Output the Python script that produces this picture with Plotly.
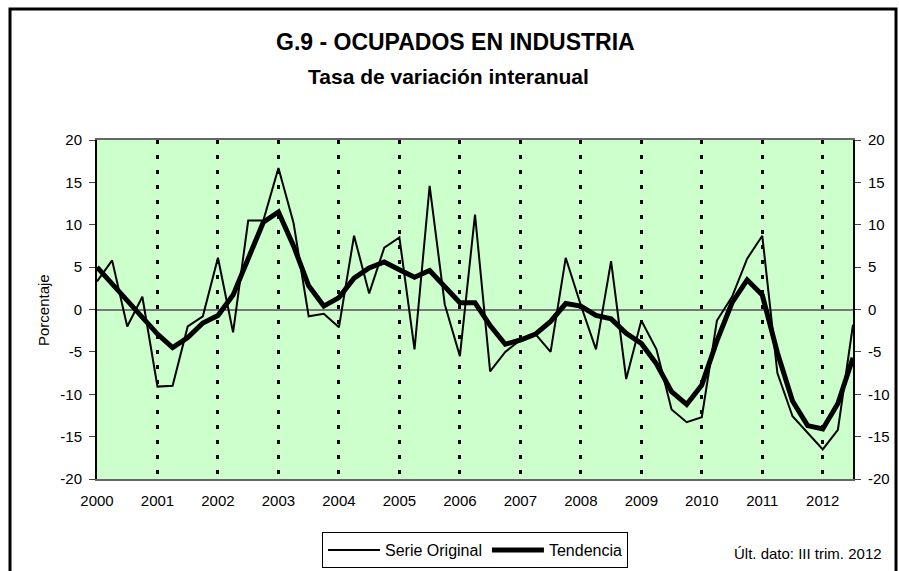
import plotly.graph_objects as go

# Quarterly data 2000 Q1 .. 2012 Q3
years = list(range(2000, 2013))
quarters_per_year = 4
n_points = 51
x_time = [2000 + i / quarters_per_year for i in range(n_points)]

serie_original = [
    3.3, 5.8, -2.0, 1.5,        # 2000
    -9.1, -9.0, -2.0, -0.8,     # 2001
    6.1, -2.7, 10.5, 10.5,      # 2002
    16.7, 10.2, -0.8, -0.5,     # 2003
    -2.1, 8.7, 1.9, 7.3,        # 2004
    8.5, -4.7, 14.6, 0.6,       # 2005
    -5.5, 11.2, -7.3, -5.0,     # 2006
    -3.6, -2.9, -5.0, 6.1,      # 2007
    0.5, -4.7, 5.7, -8.2,       # 2008
    -1.3, -4.7, -11.8, -13.3,   # 2009
    -12.7, -1.3, 1.5, 6.0,      # 2010
    8.7, -7.5, -12.6, -14.6,    # 2011
    -16.5, -14.2, -1.8,         # 2012
]

tendencia = [
    5.0, 3.0, 1.0, -0.9,
    -2.9, -4.5, -3.3, -1.6,
    -0.7, 1.7, 6.2, 10.3,
    11.5, 7.5, 2.8, 0.4,
    1.4, 3.7, 4.9, 5.6,
    4.7, 3.8, 4.6, 2.7,
    0.8, 0.8, -1.9, -4.1,
    -3.6, -2.9, -1.4, 0.7,
    0.4, -0.7, -1.1, -2.8,
    -4.0, -6.4, -9.7, -11.2,
    -8.9, -3.7, 0.8, 3.5,
    1.7, -5.1, -10.8, -13.7,
    -14.1, -11.1, -5.7,
]

y_ticks = [-20, -15, -10, -5, 0, 5, 10, 15, 20]
y_tick_labels = ["-20", "-15", "-10", "-5", "0", "5", "10", "15", "20"]
x_tick_labels = [str(y) for y in years]

FONT = "Liberation Sans, Arial, sans-serif"

# plot area geometry (pixels)
W, H = 899, 571
L, R, T, B = 97, 853, 140, 479


def px_x(px):
    return (px - L) / (R - L)


def px_y(py):
    return (B - py) / (B - T)


fig = go.Figure()

fig.add_trace(go.Scatter(
    x=x_time, y=serie_original, mode="lines", name="Serie Original",
    line=dict(color="black", width=2), yaxis="y",
))
fig.add_trace(go.Scatter(
    x=x_time, y=tendencia, mode="lines", name="Tendencia",
    line=dict(color="black", width=5), yaxis="y",
))
# invisible trace to activate right axis
fig.add_trace(go.Scatter(
    x=[x_time[0]], y=[0], mode="lines", yaxis="y2", showlegend=False,
    hoverinfo="skip", line=dict(color="rgba(0,0,0,0)"),
))

fig.update_layout(
    width=W, height=H,
    margin=dict(l=L, r=W - R, t=T, b=H - B, pad=0, autoexpand=False),
    paper_bgcolor="white",
    plot_bgcolor="#CCFFCC",
    font=dict(family=FONT, size=15, color="black"),
    showlegend=True,
    legend=dict(
        orientation="h", x=0.5, xanchor="center", y=px_y(568), yanchor="bottom",
        bgcolor="white", bordercolor="black", borderwidth=1,
        font=dict(size=16), itemwidth=52, tracegroupgap=0,
    ),
    xaxis=dict(
        range=[2000, 2012.5],
        tickmode="array", tickvals=years, ticktext=x_tick_labels,
        ticks="", showgrid=True, gridcolor="black", gridwidth=3,
        griddash="4px,11px",
        showline=True, linecolor="#666666", linewidth=2, mirror=True,
        zeroline=False, tickfont=dict(size=15), ticklabelstandoff=7,
    ),
    yaxis=dict(
        range=[-20, 20], tickmode="array", tickvals=y_ticks, ticktext=y_tick_labels,
        ticks="outside", ticklen=6, tickcolor="#444444", tickwidth=1,
        showgrid=False, zeroline=True, zerolinecolor="#777777", zerolinewidth=2,
        showline=True, linecolor="black", linewidth=2,
        tickfont=dict(size=15), ticklabelstandoff=4,
    ),
    yaxis2=dict(
        range=[-20, 20], tickmode="array", tickvals=y_ticks, ticktext=y_tick_labels,
        overlaying="y", side="right",
        ticks="outside", ticklen=6, tickcolor="#444444", tickwidth=1,
        showgrid=False, zeroline=False,
        showline=True, linecolor="black", linewidth=2,
        tickfont=dict(size=15), ticklabelstandoff=4,
    ),
    shapes=[
        dict(type="rect", xref="paper", yref="paper",
             x0=px_x(10), x1=px_x(896), y0=px_y(600), y1=px_y(9),
             line=dict(color="black", width=3), fillcolor="rgba(0,0,0,0)",
             layer="above"),
    ],
    annotations=[
        dict(text="<b>G.9 - OCUPADOS EN INDUSTRIA</b>", xref="paper", yref="paper",
             x=px_x(455), y=px_y(42), xanchor="center", yanchor="middle",
             showarrow=False, font=dict(size=23, family=FONT)),
        dict(text="<b>Tasa de variación interanual</b>", xref="paper", yref="paper",
             x=px_x(448), y=px_y(76), xanchor="center", yanchor="middle",
             showarrow=False, font=dict(size=21, family=FONT)),
        dict(text="Porcentaje", xref="paper", yref="paper",
             x=px_x(43), y=px_y(310), xanchor="center", yanchor="middle",
             textangle=-90, showarrow=False, font=dict(size=15, family=FONT)),
        dict(text="Últ. dato: III trim. 2012", xref="paper", yref="paper",
             x=px_x(808), y=px_y(553), xanchor="center", yanchor="middle",
             showarrow=False, font=dict(size=15, family=FONT)),
    ],
)

fig.write_html(
    "out.html",
    config={"displayModeBar": False},
    post_script="document.body.style.margin='0px';document.body.style.overflow='hidden';",
)
